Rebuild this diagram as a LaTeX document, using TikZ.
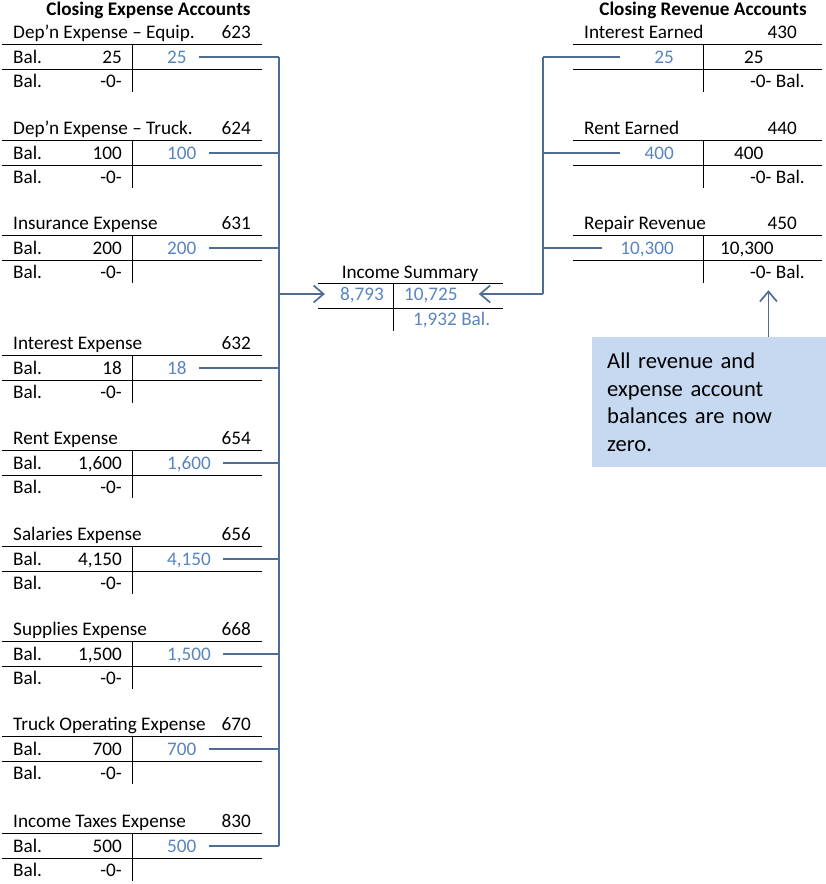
\documentclass[tikz,border=0pt]{standalone}
\usepackage{fontspec}
\setmainfont{Carlito}
\usetikzlibrary{arrows.meta,positioning}
\definecolor{postblue}{RGB}{88,132,192}
\definecolor{linkblue}{RGB}{79,108,148}
\definecolor{notefill}{RGB}{198,217,241}
\newcommand\acctfont{\fontsize{19.2}{22}\selectfont}
\newcommand\notefont{\fontsize{22.6}{27.7}\selectfont}
\tikzset{
  txt/.style={font=\acctfont, inner sep=0pt, text height=12pt, text depth=0pt},
  ttl/.style={txt, font=\acctfont\bfseries, anchor=base},
  post/.style={txt, text=postblue},
  rule/.style={draw=black, line width=1pt},
  link/.style={draw=linkblue, line width=1.2pt},
  arlink/.style={draw=linkblue, line width=1.7pt,
                 -{Straight Barb[length=10pt,width=17pt,line width=1.7pt]}},
  notebox/.style={rectangle, fill=notefill, font=\notefont, align=left,
                  text width=204pt, inner xsep=15pt, minimum height=130pt},
}

\begin{document}
\begin{tikzpicture}[x=1pt,y=-1pt]
\useasboundingbox (0,0) rectangle (826,884);

% ===================== headings =====================
\node[ttl] (etitle) at (148.5,15) {Closing Expense Accounts};
\node[ttl] (rtitle) at (703,15) {Closing Revenue Accounts};

\coordinate (ebus) at (279,0);
\coordinate (rbus) at (543,0);

% ===================== expense T-accounts =====================
\foreach \y/\nm/\no/\amt [count=\i] in {
    32/{Dep'n Expense -- Equip.}/623/25,
    128/{Dep'n Expense -- Truck.}/624/100,
    223/Insurance Expense/631/200,
    343/Interest Expense/632/18,
    438/Rent Expense/654/{1,600},
    534/Salaries Expense/656/{4,150},
    629/Supplies Expense/668/{1,500},
    724/Truck Operating Expense/670/700,
    821/Income Taxes Expense/830/500}{
  \node[txt, anchor=base west] (e\i name) at (13,\y+6) {\nm};
  \node[txt, anchor=base east] (e\i no) at (251,\y+6) {\no};
  \draw[rule] (2,\y+12) -- (262,\y+12);
  \draw[rule] (2,\y+37) -- (262,\y+37);
  \draw[rule] (132,\y+12) -- (132,\y+60);
  \node[txt, anchor=base west] (e\i bal) at (13,\y+31) {Bal.};
  \node[txt, anchor=base east] (e\i dr) at (122,\y+31) {\amt};
  \node[post, anchor=base west] (e\i amt) at (167,\y+31) {\amt};
  \node[txt, anchor=base west] (e\i endbal) at (13,\y+55) {Bal.};
  \node[txt, anchor=base east] (e\i zero) at (122,\y+55) {-0-};
  \draw[link] ([xshift=12pt]e\i amt.east) -- (e\i amt.east -| ebus);
}
\draw[link] (e1amt.east -| ebus) -- (e9amt.east -| ebus);

% ===================== revenue T-accounts =====================
\foreach \y/\nm/\no/\amt/\bx/\lx [count=\i] in {
    32/Interest Earned/430/25/744/620,
    128/Rent Earned/440/400/734/620,
    223/Repair Revenue/450/{10,300}/720/602}{
  \node[txt, anchor=base west] (r\i name) at (584,\y+6) {\nm};
  \node[txt, anchor=base east] (r\i no) at (797,\y+6) {\no};
  \draw[rule] (573,\y+12) -- (822,\y+12);
  \draw[rule] (573,\y+37) -- (822,\y+37);
  \draw[rule] (703,\y+12) -- (703,\y+60);
  \node[post, anchor=base east] (r\i amt) at (674,\y+31) {\amt};
  \node[txt, anchor=base west] (r\i cr) at (\bx,\y+31) {\amt};
  \node[txt, anchor=base east] (r\i zero) at (805,\y+55) {-0- Bal.};
  \coordinate (r\i link) at (\lx,\y+25);
  \draw[link] (r\i link) -- (r\i link -| rbus);
}

% ===================== income summary =====================
\node[txt, anchor=base] (istitle) at (410,278) {Income Summary};
\draw[rule] (318,283) -- (503,283);
\draw[rule] (318,308) -- (503,308);
\draw[rule] (393,283) -- (393,331);
\node[post, anchor=base east] (isdr) at (384,300) {8,793};
\node[post, anchor=base west] (iscr) at (404,300) {10,725};
\node[post, anchor=base west] (isbal) at (413,325) {1,932 Bal.};

\draw[link] (r1link -| rbus) -- (rbus |- iscr.east);
\draw[arlink] (ebus |- isdr.west) -- ([xshift=-15pt]isdr.west);
\draw[arlink] (rbus |- iscr.east) -- ([xshift=21pt]iscr.east);

% ===================== note =====================
\node[notebox, anchor=north west] (note) at (592,337)
  {All revenue and\\expense account\\balances are now\\zero.};
\draw[arlink] ([xshift=-9pt]r3zero.south |- note.north) -- ([xshift=-9pt,yshift=-12pt]r3zero.south);

\end{tikzpicture}
\end{document}
